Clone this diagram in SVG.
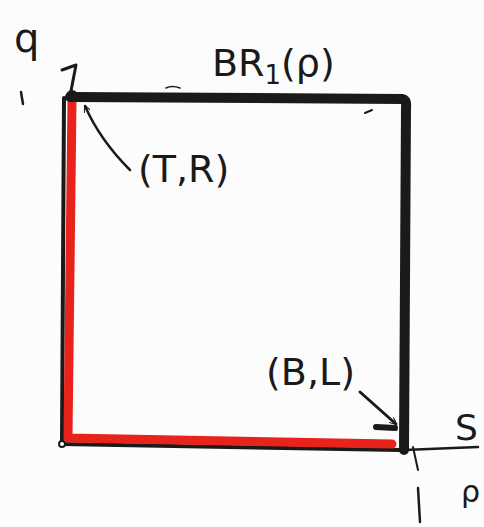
<svg xmlns="http://www.w3.org/2000/svg" width="484" height="527" viewBox="0 0 484 527">
<style>
.ink{fill:none;stroke:#1a1a1a;stroke-linecap:round;stroke-linejoin:round}
.red{fill:none;stroke:#e8231b;stroke-linecap:round;stroke-linejoin:round}
.lbl{font-family:"DejaVu Sans","Liberation Sans",sans-serif;fill:#1a1a1a}
</style>
<defs>
<marker id="ah" viewBox="0 0 10 10" refX="9" refY="5" markerWidth="7" markerHeight="7" orient="auto" markerUnits="userSpaceOnUse">
<path d="M0,0 L10,5 L0,10" fill="none" stroke="#1a1a1a" stroke-width="1.6"/>
</marker>
</defs>
<rect width="484" height="527" fill="#fcfcfc"/>
<!-- square -->
<g id="square">
<path class="ink" d="M64,98 L62,444 L400,450" stroke-width="4"/>
<path class="red" d="M72,100 L68,438 L392,444" stroke-width="9"/>
<path class="ink" d="M70,97 L402,99 Q407,100 406,108 L404,450" stroke-width="10"/>
<circle cx="72" cy="96" r="6" fill="#1a1a1a"/>
<circle cx="62" cy="444" r="3" fill="#fff" stroke="#1a1a1a" stroke-width="2"/>
</g>
<!-- axes -->
<g id="axes">
<path class="ink" d="M404,450 L478,447" stroke-width="2.5"/>
<path class="ink" d="M413,447 L418,470" stroke-width="2"/>
<path class="ink" d="M418,488 L420,522" stroke-width="2.5"/>
<path class="ink" d="M21,92 L23,104" stroke-width="2.5"/>
<path class="ink" d="M62,70 L76,65 L70,96" stroke-width="3"/>
<path class="ink" d="M166,88 Q172,85 180,88" stroke-width="1.5"/>
<path class="ink" d="M365,113 L372,110" stroke-width="2"/>
</g>
<!-- connectors -->
<g id="connectors">
<path class="ink" d="M130,170 Q100,140 85,106" stroke-width="2.5" marker-end="url(#ah)"/>
<path class="ink" d="M360,392 L396,424" stroke-width="3" marker-end="url(#ah)"/>
<path class="ink" d="M376,427 L395,428" stroke-width="6"/>
</g>
<!-- labels -->
<g id="labels">
<text class="lbl" x="14" y="52" font-size="40">q</text>
<text class="lbl" x="212" y="76" font-size="38">BR<tspan font-size="26" dy="8">1</tspan><tspan dy="-8">(ρ)</tspan></text>
<text class="lbl" x="138" y="182" font-size="38">(T,R)</text>
<text class="lbl" x="266" y="385" font-size="38">(B,L)</text>
<text class="lbl" x="455" y="440" font-size="36">S</text>
<text class="lbl" x="461" y="502" font-size="30">ρ</text>
</g>
</svg>
